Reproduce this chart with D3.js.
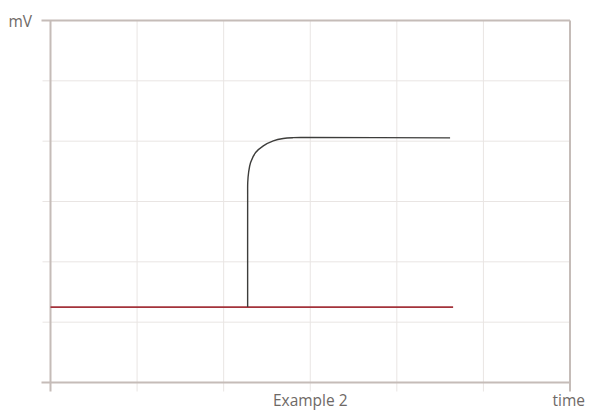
<!DOCTYPE html>
<html><head><meta charset="utf-8">
<script src="https://cdn.jsdelivr.net/npm/d3@7"></script>
<style>body{margin:0;background:#fff}svg{display:block}</style>
</head><body><div id="chart"></div>
<script>
// data (x in time units, y in mV units)
const xTicks = [0,1,2,3,4,5,6];
const yTicks = [0,1,2,3,4,5,6];
const baselineX = [0, 4.65];
const baselineY = [1.25, 1.25];
const responseX = [2.277, 2.277, 2.278, 2.288, 2.311, 2.369, 2.458, 2.573, 2.688, 2.804, 2.95, 4.615];
const responseY = [1.25, 3.10, 3.315, 3.481, 3.646, 3.812, 3.923, 4.006, 4.045, 4.058, 4.06, 4.055];
const xLabel = "Example 2", xUnit = "time", yUnit = "mV";

const W = 590, H = 411;
const m = {l:50.5, r:20, t:20.5, b:28.5};
const svg = d3.select("#chart").append("svg").attr("width", W).attr("height", H);
const x = d3.scaleLinear().domain([0,6]).range([m.l, W - m.r]);
const y = d3.scaleLinear().domain([0,6]).range([H - m.b, m.t]);

const gridC = "#e9e5e3", axisC = "#c5bcb8", textC = "#6e6966";

// grid
svg.append("g").selectAll("line").data(xTicks.slice(1,-1)).join("line")
  .attr("x1", d => x(d)).attr("x2", d => x(d)).attr("y1", y(6)).attr("y2", y(0) + 9)
  .attr("stroke", gridC).attr("stroke-width", 1);
svg.append("g").selectAll("line").data(yTicks.slice(1,-1)).join("line")
  .attr("x1", x(0) - 8).attr("x2", x(6)).attr("y1", d => y(d)).attr("y2", d => y(d))
  .attr("stroke", gridC).attr("stroke-width", 1);

// frame / axes
const ax = svg.append("g").attr("stroke", axisC).attr("stroke-width", 2).attr("fill","none");
ax.append("line").attr("x1", x(0)).attr("x2", x(0)).attr("y1", y(6)).attr("y2", y(0) + 9);
ax.append("line").attr("x1", x(6)).attr("x2", x(6)).attr("y1", y(6)).attr("y2", y(0) + 9);
ax.append("line").attr("x1", x(0) - 9).attr("x2", x(6)).attr("y1", y(6)).attr("y2", y(6));
ax.append("line").attr("x1", x(0) - 9).attr("x2", x(6)).attr("y1", y(0)).attr("y2", y(0));

// lines
const line = d3.line().x(d => x(d[0])).y(d => y(d[1])).curve(d3.curveCatmullRom.alpha(0.5));
svg.append("path").datum(baselineX.map((v,i)=>[v, baselineY[i]]))
  .attr("d", d3.line().x(d => x(d[0])).y(d => y(d[1])))
  .attr("stroke", "#a3323a").attr("stroke-width", 1.6).attr("fill","none");
svg.append("path").datum(responseX.map((v,i)=>[v, responseY[i]]))
  .attr("d", line)
  .attr("stroke", "#3d3d3b").attr("stroke-width", 1.4).attr("fill","none");

// labels
const font = "'Open Sans', Lato, sans-serif";
svg.append("text").attr("x", (x(0)+x(6))/2).attr("y", 406).attr("text-anchor","middle")
  .attr("font-family", font).attr("font-size", 15.5).attr("fill", textC).text(xLabel);
svg.append("text").attr("x", 585).attr("y", 406).attr("text-anchor","end")
  .attr("font-family", font).attr("font-size", 15.5).attr("fill", textC).text(xUnit);
svg.append("text").attr("x", 32).attr("y", 27).attr("text-anchor","end")
  .attr("font-family", font).attr("font-size", 15.5).attr("fill", textC).text(yUnit);
</script></body></html>
